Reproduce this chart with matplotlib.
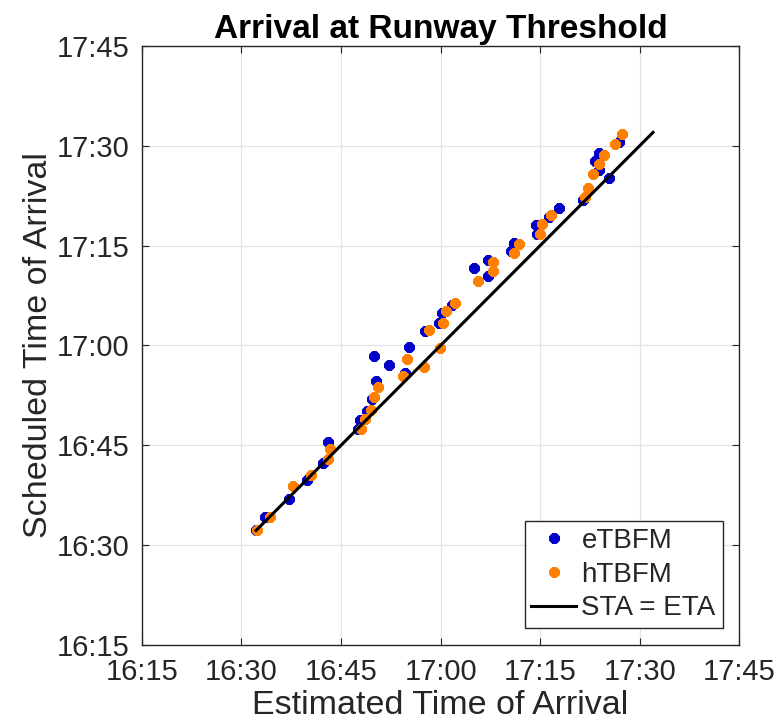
import numpy as np
import matplotlib
matplotlib.use('Agg')
import matplotlib.pyplot as plt
from matplotlib.ticker import FuncFormatter

# times in minutes after 16:00
eta_e = [32.2, 33.5, 37.1, 39.8, 42.3, 43.0, 47.6, 47.9, 48.9, 49.6, 50.3, 49.9,
         52.3, 54.6, 55.3, 57.7, 59.8, 60.2, 61.7, 65.0, 67.1, 67.2, 70.6, 71.1,
         74.4, 74.5, 76.4, 77.9, 81.4, 83.2, 83.9, 83.8, 85.3, 86.8]
sta_e = [32.3, 34.3, 37.0, 39.8, 42.3, 45.5, 47.5, 48.8, 50.2, 52.0, 54.6, 58.4,
         57.0, 55.9, 59.7, 62.2, 63.4, 64.8, 66.1, 71.7, 70.4, 72.9, 74.2, 75.4,
         78.1, 76.8, 79.3, 80.6, 81.8, 87.7, 88.9, 86.3, 85.1, 90.6]

eta_h = [32.4, 34.3, 37.8, 40.5, 43.0, 43.3, 48.0, 48.6, 49.5, 50.0, 50.5, 54.4,
         54.9, 57.5, 59.9, 58.3, 60.4, 60.8, 62.2, 65.6, 67.9, 67.9, 71.0, 71.8,
         75.3, 74.9, 76.6, 81.8, 82.2, 83.0, 83.9, 84.6, 86.2, 87.4]
sta_h = [32.3, 34.3, 38.9, 40.5, 43.0, 44.4, 47.4, 48.9, 50.3, 52.3, 53.7, 55.4,
         57.9, 56.7, 59.6, 62.3, 63.4, 65.2, 66.3, 69.7, 71.2, 72.6, 73.9, 75.3,
         78.2, 76.7, 79.6, 82.3, 83.7, 85.8, 87.2, 88.6, 90.3, 91.7]

ref_line = [32.2, 92.0]
ticks = [15, 30, 45, 60, 75, 90, 105]


def hhmm(v, pos=None):
    m = int(round(v)) + 16 * 60
    return '{:d}:{:02d}'.format(m // 60, m % 60)


plt.rcParams['font.family'] = ['Liberation Sans', 'DejaVu Sans']
dark = '#262626'
plt.rcParams['text.color'] = dark
plt.rcParams['axes.labelcolor'] = dark

fig = plt.figure(figsize=(7.84, 7.28), dpi=100)
ax = fig.add_axes([0.181, 0.114, 0.762, 0.823])

star = (8, 2, 0)
ax.plot(eta_e, sta_e, linestyle='none', marker=star, ms=7.5, mew=2.7,
        color='#0000C8', label='eTBFM')
ax.plot(eta_h, sta_h, linestyle='none', marker=star, ms=7.5, mew=2.7,
        color='#FF7F00', label='hTBFM')
ax.plot(ref_line, ref_line, color='black', lw=2.2, label='STA = ETA')

ax.set_xlim(15, 105)
ax.set_ylim(15, 105)
ax.set_xticks(ticks)
ax.set_yticks(ticks)
ax.xaxis.set_major_formatter(FuncFormatter(hhmm))
ax.yaxis.set_major_formatter(FuncFormatter(hhmm))
ax.tick_params(direction='in', top=True, right=True, labelsize=21, length=5,
               pad=9, color=dark, labelcolor=dark)
ax.grid(True, color='#E3E3E3', lw=0.9)
ax.set_axisbelow(True)
for s in ax.spines.values():
    s.set_linewidth(1.0)
    s.set_color(dark)

ax.set_xlabel('Estimated Time of Arrival', fontsize=24.5, labelpad=3)
ax.set_ylabel('Scheduled Time of Arrival', fontsize=24.5, labelpad=2)
ax.set_title('Arrival at Runway Threshold', fontsize=24, fontweight='bold',
             pad=6, color='black')

leg = ax.legend(loc='lower right', fontsize=20, fancybox=False, framealpha=1,
                edgecolor=dark, handlelength=1.6, handletextpad=0.2,
                borderaxespad=0.6, borderpad=0.25, labelspacing=0.28)
leg.get_frame().set_linewidth(1.0)

fig.savefig('out.png', dpi=100)
